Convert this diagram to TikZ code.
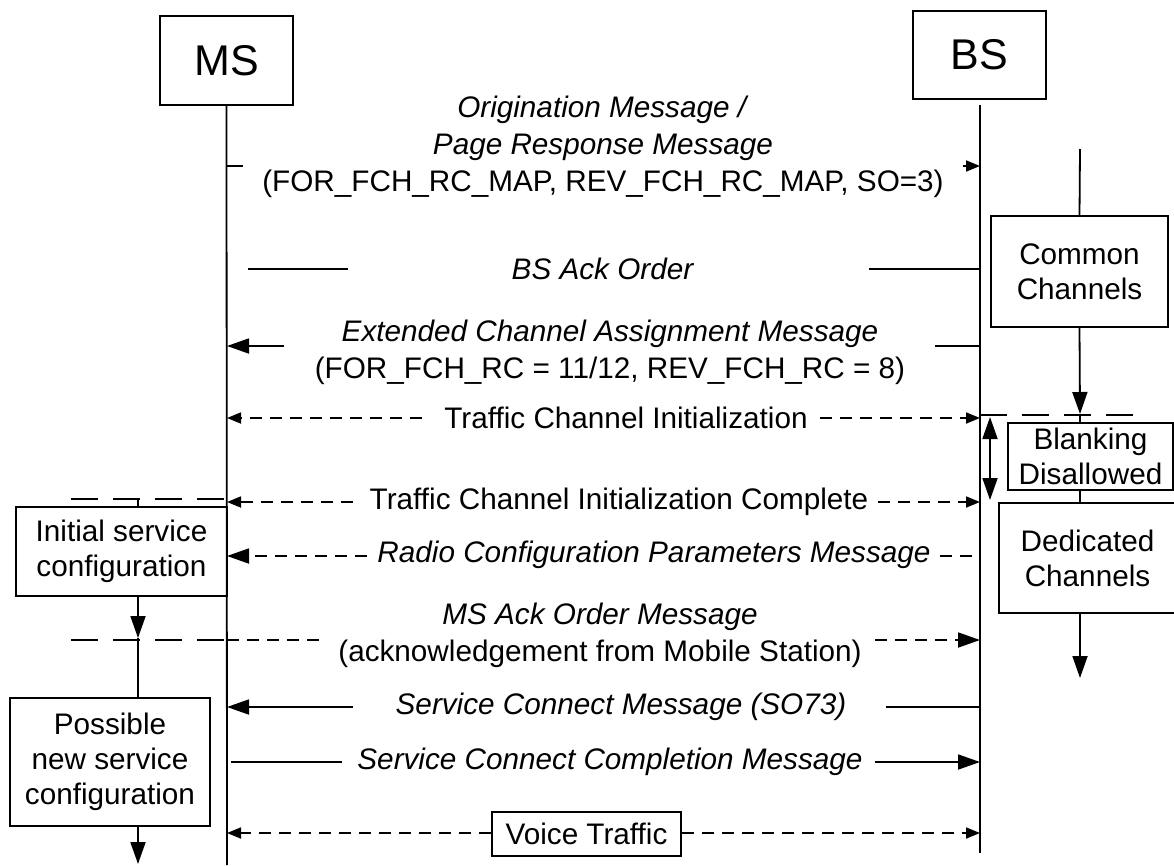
\documentclass[tikz,border=0pt]{standalone}
\usepackage{fontspec}
\setmainfont{Liberation Sans}
\usetikzlibrary{arrows.meta}

\begin{document}
\begin{tikzpicture}[x=1pt, y=-1pt, line width=1.8pt,
    font=\fontsize{29.7}{37}\selectfont,
    entity/.style={draw, minimum width=133pt, minimum height=89pt, inner sep=0pt, font=\fontsize{43}{50}\selectfont},
    state/.style={draw, align=center, inner sep=0pt, font=\fontsize{29.7}{35}\selectfont},
    msg/.style={align=center, inner sep=0pt},
    big/.style={-{Triangle[length=22pt, width=15pt]}},
    small/.style={-{Triangle[length=14pt, width=11pt]}},
    bothbig/.style={{Triangle[length=22pt, width=15pt]}-{Triangle[length=22pt, width=15pt]}},
    msgdash/.style={dash pattern=on 12pt off 8pt},
    phasedash/.style={dash pattern=on 27pt off 15pt}]
    \useasboundingbox (0,0) rectangle (1174,865);

    \node[entity] (MS) at (226.5,60.5) {MS};
    \node[entity, minimum height=88pt] (BS) at (979.5,55) {BS};
    \coordinate (MSend) at (227,865);
    \coordinate (BStop) at (980,105);
    \coordinate (BSend) at (980,853);
    \draw (MS.south) -- (MSend);
    \draw (BStop) -- (BSend);

    \node[msg] (orig) at (603,147) {\textit{Origination Message /}\\\textit{Page Response Message}\\(FOR\_FCH\_RC\_MAP, REV\_FCH\_RC\_MAP, SO=3)};
    \coordinate (orig1) at (227,166);
    \coordinate (orig2) at (243,166);
    \coordinate (orig3) at (963,166);
    \coordinate (orig4) at (980,166);
    \draw (orig1) -- (orig2);
    \draw[small] (orig3) -- (orig4);

    \node[msg] (bsack) at (603,269) {\textit{BS Ack Order}};
    \coordinate (bsack1) at (248,269);
    \coordinate (bsack2) at (348,269);
    \coordinate (bsack3) at (869,269);
    \coordinate (bsack4) at (980,269);
    \draw (bsack1) -- (bsack2);
    \draw (bsack3) -- (bsack4);

    \node[msg] (ecam) at (610,352) {\textit{Extended Channel Assignment Message}\\(FOR\_FCH\_RC = 11/12, REV\_FCH\_RC = 8)};
    \coordinate (ecam1) at (284,346);
    \coordinate (ecam2) at (227,346);
    \coordinate (ecam3) at (935,346);
    \coordinate (ecam4) at (980,346);
    \draw[big] (ecam1) -- (ecam2);
    \draw (ecam3) -- (ecam4);

    \node[msg] (tci) at (626,418) {Traffic Channel Initialization};
    \coordinate (tci1) at (422,418);
    \coordinate (tci2) at (227,418);
    \coordinate (tci3) at (820,418);
    \coordinate (tci4) at (980,418);
    \draw[small, msgdash] (tci1) -- (tci2);
    \draw[small, msgdash] (tci3) -- (tci4);

    \node[msg] (tcic) at (619,502) {Traffic Channel Initialization Complete};
    \coordinate (tcic1) at (353,502);
    \coordinate (tcic2) at (227,502);
    \coordinate (tcic3) at (878,502);
    \coordinate (tcic4) at (980,502);
    \draw[small, msgdash] (tcic1) -- (tcic2);
    \draw[small, msgdash] (tcic3) -- (tcic4);

    \node[msg] (rcp) at (654,555) {\textit{Radio Configuration Parameters Message}};
    \coordinate (rcp1) at (367,556);
    \coordinate (rcp2) at (227,556);
    \coordinate (rcp3) at (940,556);
    \coordinate (rcp4) at (980,556);
    \draw[big, msgdash] (rcp1) -- (rcp2);
    \draw[msgdash] (rcp3) -- (rcp4);

    \node[msg] (msack) at (600,635) {\textit{MS Ack Order Message}\\(acknowledgement from Mobile Station)};
    \coordinate (msack1) at (227,640);
    \coordinate (msack2) at (323,640);
    \coordinate (msack3) at (875,640);
    \coordinate (msack4) at (980,640);
    \draw[msgdash] (msack1) -- (msack2);
    \draw[big, msgdash] (msack3) -- (msack4);

    \node[msg] (sc) at (621,707) {\textit{Service Connect Message (SO73)}};
    \coordinate (sc1) at (353,707);
    \coordinate (sc2) at (227,707);
    \coordinate (sc3) at (886,707);
    \coordinate (sc4) at (980,707);
    \draw[big] (sc1) -- (sc2);
    \draw (sc3) -- (sc4);

    \node[msg] (scc) at (610,762) {\textit{Service Connect Completion Message}};
    \coordinate (scc1) at (231,762);
    \coordinate (scc2) at (342,762);
    \coordinate (scc3) at (875,762);
    \coordinate (scc4) at (980,762);
    \draw (scc1) -- (scc2);
    \draw[big] (scc3) -- (scc4);

    \node[draw, minimum width=189pt, minimum height=44pt, inner sep=0pt] (voice) at (586.5,834) {Voice Traffic};
    \coordinate (voice1) at (227,833);
    \coordinate (voice2) at (980,833);
    \draw[small, msgdash] (voice.west |- voice1) -- (voice1);
    \draw[small, msgdash] (voice.east |- voice2) -- (voice2);

    \coordinate (cctop) at (1080,149);
    \node[state, minimum width=177pt, minimum height=111pt] (common) at (1079.5,271.5) {Common\\Channels};
    \draw (cctop) -- (common.north);
    \coordinate (cctip) at (1080,414);
    \draw[big] (common.south) -- (cctip);
    \coordinate (bsdash1) at (980,415);
    \coordinate (bsdash2) at (1135,415);
    \draw[phasedash] (bsdash1) -- (bsdash2);
    \node[state, minimum width=165pt, minimum height=67pt] (blank) at (1090.5,456.5) {Blanking\\Disallowed};
    \draw (cctip) -- (cctip |- blank.north);
    \node[state, minimum width=177pt, minimum height=110pt] (ded) at (1087.5,558) {Dedicated\\Channels};
    \draw (cctip |- blank.south) -- (cctip |- ded.north);
    \coordinate (dedtip) at (1080,678);
    \draw[big] (cctip |- ded.south) -- (dedtip);
    \coordinate (blank1) at (990,417);
    \coordinate (blank2) at (990,500);
    \draw[bothbig] (blank1) -- (blank2);

    \coordinate (msdash1) at (71,499);
    \coordinate (msdash2) at (227,499);
    \draw[phasedash] (msdash1) -- (msdash2);
    \node[state, minimum width=211pt, minimum height=89pt] (init) at (121.5,551.5) {Initial service\\configuration};
    \coordinate (initx) at (138,499);
    \draw (initx) -- (initx |- init.north);
    \coordinate (inittip) at (138,638);
    \draw[big] (initx |- init.south) -- (inittip);
    \coordinate (msdash3) at (71,640);
    \coordinate (msdash4) at (227,640);
    \draw[phasedash] (msdash3) -- (msdash4);
    \node[state, minimum width=200pt, minimum height=128pt] (poss) at (110,762) {Possible\\new service\\configuration};
    \draw (inittip) -- (inittip |- poss.north);
    \coordinate (posstip) at (138,864);
    \draw[big] (inittip |- poss.south) -- (posstip);
\end{tikzpicture}
\end{document}
